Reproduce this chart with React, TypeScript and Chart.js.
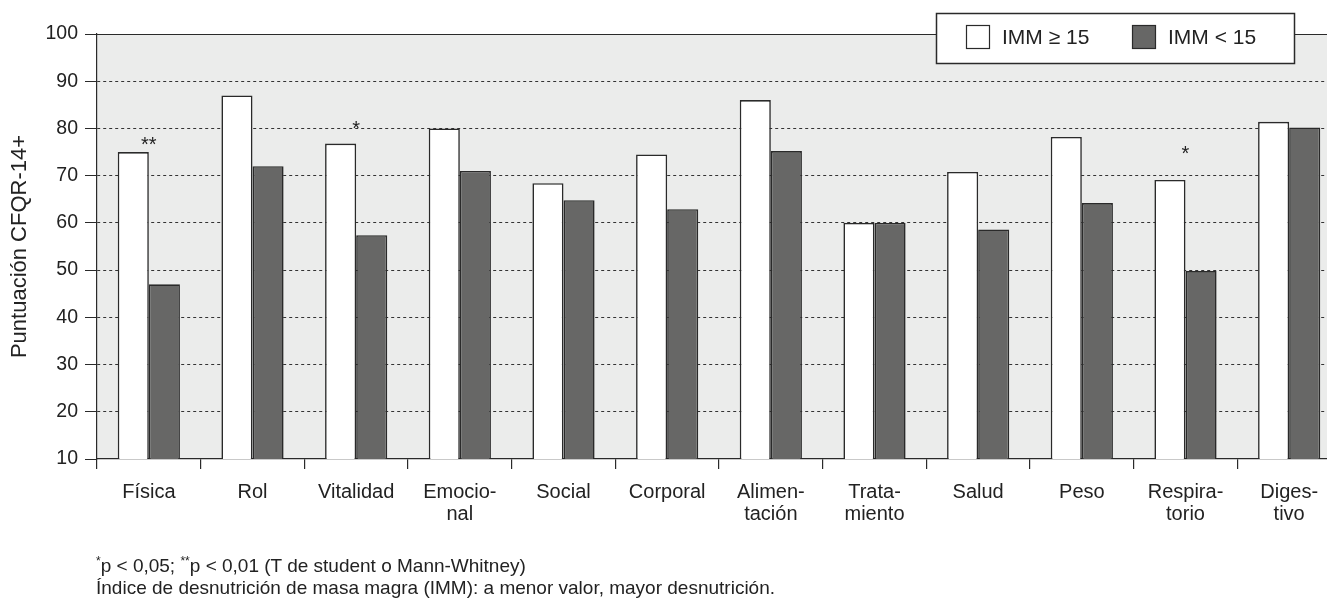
import React, { useEffect, useRef } from "react";
import { Chart, registerables } from "chart.js";

Chart.register(...registerables);

const categories: (string | string[])[] = [
  "Física",
  "Rol",
  "Vitalidad",
  ["Emocio-", "nal"],
  "Social",
  "Corporal",
  ["Alimen-", "tación"],
  ["Trata-", "miento"],
  "Salud",
  "Peso",
  ["Respira-", "torio"],
  ["Diges-", "tivo"],
];
const immHigh = [75, 87, 76.8, 80, 68.4, 74.5, 86, 60, 70.8, 78.2, 69.1, 81.4];
const immLow = [47, 72, 57.4, 71, 64.8, 62.9, 75.2, 60, 58.6, 64.2, 49.8, 80.2];
const significance = ["**", "", "*", "", "", "", "", "", "", "", "*", ""];
const significanceAt = [77.8, 0, 81.1, 0, 0, 0, 0, 0, 0, 0, 75.9, 0];
const seriesLabels = ["IMM ≥ 15", "IMM < 15"];
const yMin = 10;
const yMax = 100;
const yStep = 10;
const yTitle = "Puntuación CFQR-14+";
const footnote1 = ["*", "p < 0,05; ", "**", "p < 0,01 (T de student o Mann-Whitney)"];
const footnote2 = "Índice de desnutrición de masa magra (IMM): a menor valor, mayor desnutrición.";

const FONT = '"Liberation Sans", Arial, Helvetica, sans-serif';
const INK = "#222222";
const LINE = "#2a2a2a";
const BG = "#ebeceb";
const DARK = "#676766";

export default function App() {
  const ref = useRef<HTMLCanvasElement>(null);

  useEffect(() => {
    if (!ref.current) return;

    const decor = {
      id: "decor",
      beforeDraw(chart: any) {
        const { ctx, chartArea: a } = chart;
        ctx.save();
        ctx.fillStyle = BG;
        ctx.fillRect(a.left, a.top, a.right - a.left, a.bottom - a.top);
        ctx.restore();
      },
      afterDatasetsDraw(chart: any) {
        const { ctx } = chart;
        const xs = chart.scales.x;
        const ys = chart.scales.y;
        ctx.save();
        ctx.fillStyle = INK;
        ctx.font = `20px ${FONT}`;
        ctx.textAlign = "center";
        ctx.textBaseline = "alphabetic";
        significance.forEach((s, i) => {
          if (!s) return;
          const x = xs.getPixelForValue(i);
          const y = ys.getPixelForValue(significanceAt[i]);
          ctx.fillText(s, x, y + 12);
        });
        ctx.restore();
      },
      afterDraw(chart: any) {
        const { ctx, chartArea: a } = chart;
        ctx.save();
        // top solid line
        ctx.strokeStyle = LINE;
        ctx.lineWidth = 1.2;
        ctx.beginPath();
        ctx.moveTo(a.left, a.top + 0.5);
        ctx.lineTo(chart.width, a.top + 0.5);
        ctx.stroke();
        // legend box
        const bx = 936, by = 13, bw = 358, bh = 50;
        ctx.fillStyle = "#ffffff";
        ctx.fillRect(bx, by, bw, bh);
        ctx.lineWidth = 1.5;
        ctx.strokeRect(bx + 0.5, by + 0.5, bw, bh);
        const items = [
          { x: 966, fill: "#ffffff", label: seriesLabels[0] },
          { x: 1132, fill: DARK, label: seriesLabels[1] },
        ];
        ctx.font = `21px ${FONT}`;
        ctx.textBaseline = "middle";
        ctx.textAlign = "left";
        items.forEach((it) => {
          ctx.fillStyle = it.fill;
          ctx.fillRect(it.x, 25, 23, 23);
          ctx.lineWidth = 1.2;
          ctx.strokeStyle = LINE;
          ctx.strokeRect(it.x + 0.5, 25.5, 23, 23);
          ctx.fillStyle = INK;
          ctx.fillText(it.label, it.x + 36, 38);
        });
        ctx.restore();
      },
    };

    const chart = new Chart(ref.current, {
      type: "bar",
      data: {
        labels: categories as any,
        datasets: [
          {
            label: seriesLabels[0],
            data: immHigh,
            backgroundColor: "#ffffff",
            borderColor: LINE,
            borderWidth: 1.6,
            barPercentage: 1,
            categoryPercentage: 0.6,
          },
          {
            label: seriesLabels[1],
            data: immLow,
            backgroundColor: DARK,
            borderColor: LINE,
            borderWidth: 1.6,
            barPercentage: 1,
            categoryPercentage: 0.6,
          },
        ],
      },
      options: {
        responsive: false,
        animation: false,
        layout: { padding: { top: 34, left: 0, right: 0, bottom: 0 } },
        plugins: {
          legend: { display: false },
          tooltip: { enabled: false },
        },
        scales: {
          x: {
            offset: true,
            afterFit(scale: any) {
              scale.height = 141;
            },
            grid: {
              offset: true,
              drawOnChartArea: false,
              drawTicks: true,
              tickLength: 10,
              color: LINE,
              tickColor: LINE,
              lineWidth: 1.2,
            },
            border: { display: true, color: LINE, width: 1.2 },
            ticks: {
              color: INK,
              font: { family: FONT, size: 20, lineHeight: 1.1 },
              padding: 12,
              autoSkip: false,
              maxRotation: 0,
              minRotation: 0,
            },
          },
          y: {
            min: yMin,
            max: yMax,
            afterFit(scale: any) {
              scale.width = 97;
            },
            grid: {
              drawOnChartArea: true,
              drawTicks: true,
              tickLength: 12,
              color: (ctx: any) =>
                ctx.tick && (ctx.tick.value === yMin || ctx.tick.value === yMax)
                  ? "rgba(0,0,0,0)"
                  : "#333333",
              tickColor: LINE,
              lineWidth: 1,
            },
            border: { display: true, color: LINE, width: 1.2, dash: [3, 3] },
            ticks: {
              stepSize: yStep,
              color: INK,
              font: { family: FONT, size: 19.5 },
              padding: 7,
            },
            title: {
              display: true,
              text: yTitle,
              color: INK,
              font: { family: FONT, size: 22 },
              padding: { top: 7, bottom: 0 },
            },
          },
        },
      },
      plugins: [decor],
    } as any);

    return () => chart.destroy();
  }, []);

  return (
    <div
      style={{
        position: "fixed",
        left: 0,
        top: 0,
        width: 1327,
        height: 600,
        overflow: "hidden",
        background: "#ffffff",
      }}
    >
      <canvas ref={ref} width={1341} height={600} style={{ display: "block" }} />
      <div
        style={{
          position: "absolute",
          left: 96,
          top: 550,
          fontFamily: FONT,
          fontSize: 19,
          lineHeight: "22px",
          color: INK,
          whiteSpace: "nowrap",
        }}
      >
        <div>
          <span style={{ fontSize: 12, verticalAlign: "7px" }}>{footnote1[0]}</span>
          {footnote1[1]}
          <span style={{ fontSize: 12, verticalAlign: "7px" }}>{footnote1[2]}</span>
          {footnote1[3]}
        </div>
        <div>{footnote2}</div>
      </div>
    </div>
  );
}
